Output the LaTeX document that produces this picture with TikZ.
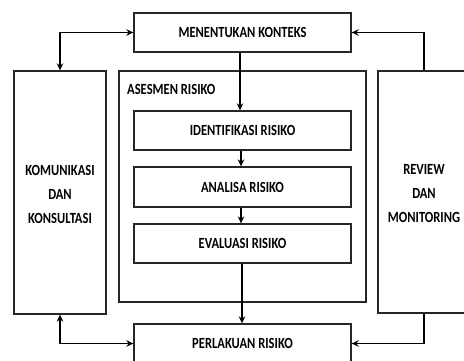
\documentclass[tikz,border=0pt]{standalone}
\usepackage{fontspec}
\setmainfont{Carlito}[FakeStretch=0.81]
\usetikzlibrary{arrows.meta}
\begin{document}
\begin{tikzpicture}[x=1pt,y=-1pt,
  box/.style={draw=black!85,line width=1.3pt,inner sep=0pt,rectangle},
  lbl/.style={font=\fontsize{15.5}{24}\selectfont\bfseries,inner sep=0pt,align=center},
  conn/.style={line width=1.9pt,black},
  tip/.style={-{Stealth[length=7pt,width=6.5pt]}},
  tips/.style={{Stealth[length=7pt,width=6.5pt]}-{Stealth[length=7pt,width=6.5pt]}}]
\useasboundingbox (0,0) rectangle (464,361);
\clip (0,0) rectangle (464,361);
\node[box,minimum width=217pt,minimum height=39pt] (top) at (242.5,32.5) {};
\node[lbl] at (top.center) {MENENTUKAN KONTEKS};
\node[box,minimum width=92pt,minimum height=243pt] (left) at (60,192.5) {};
\node[lbl] (lt) at (60,194) {KOMUNIKASI\\DAN\\KONSULTASI};
\node[box,minimum width=247pt,minimum height=231pt] (ases) at (242.5,186.5) {};
\node[lbl,anchor=west] (at) at (127,89) {ASESMEN RISIKO};
\node[box,minimum width=92pt,minimum height=242pt] (rev) at (424,192) {};
\node[lbl] (rt) at (424,194) {REVIEW\\DAN\\MONITORING};
\node[box,minimum width=217pt,minimum height=39pt] (ident) at (242.5,130.5) {};
\node[lbl] at (ident.center) {IDENTIFIKASI RISIKO};
\node[box,minimum width=217pt,minimum height=40pt] (anal) at (242.5,187) {};
\node[lbl] at (anal.center) {ANALISA RISIKO};
\node[box,minimum width=217pt,minimum height=39pt] (eval) at (242.5,243.5) {};
\node[lbl] at (eval.center) {EVALUASI RISIKO};
\node[box,minimum width=217pt,minimum height=39pt] (perl) at (242.5,343.5) {};
\node[lbl] at (perl.center) {PERLAKUAN RISIKO};
\draw[conn,tips] (top.west) -| (left.north);
\draw[conn,tip] (rev.north) |- (top.east);
\draw[conn,tips] (left.south) |- (perl.west);
\draw[conn,tip] (rev.south) |- (perl.east);
\draw[conn,tip] (top.south -| 240,0) -- (ident.north -| 240,0);
\draw[conn,tip] (ident.south -| 241,0) -- (anal.north -| 241,0);
\draw[conn,tip] (anal.south -| 241,0) -- (eval.north -| 241,0);
\draw[conn,tip] (eval.south -| 242,0) -- (perl.north -| 242,0);
\end{tikzpicture}
\end{document}
